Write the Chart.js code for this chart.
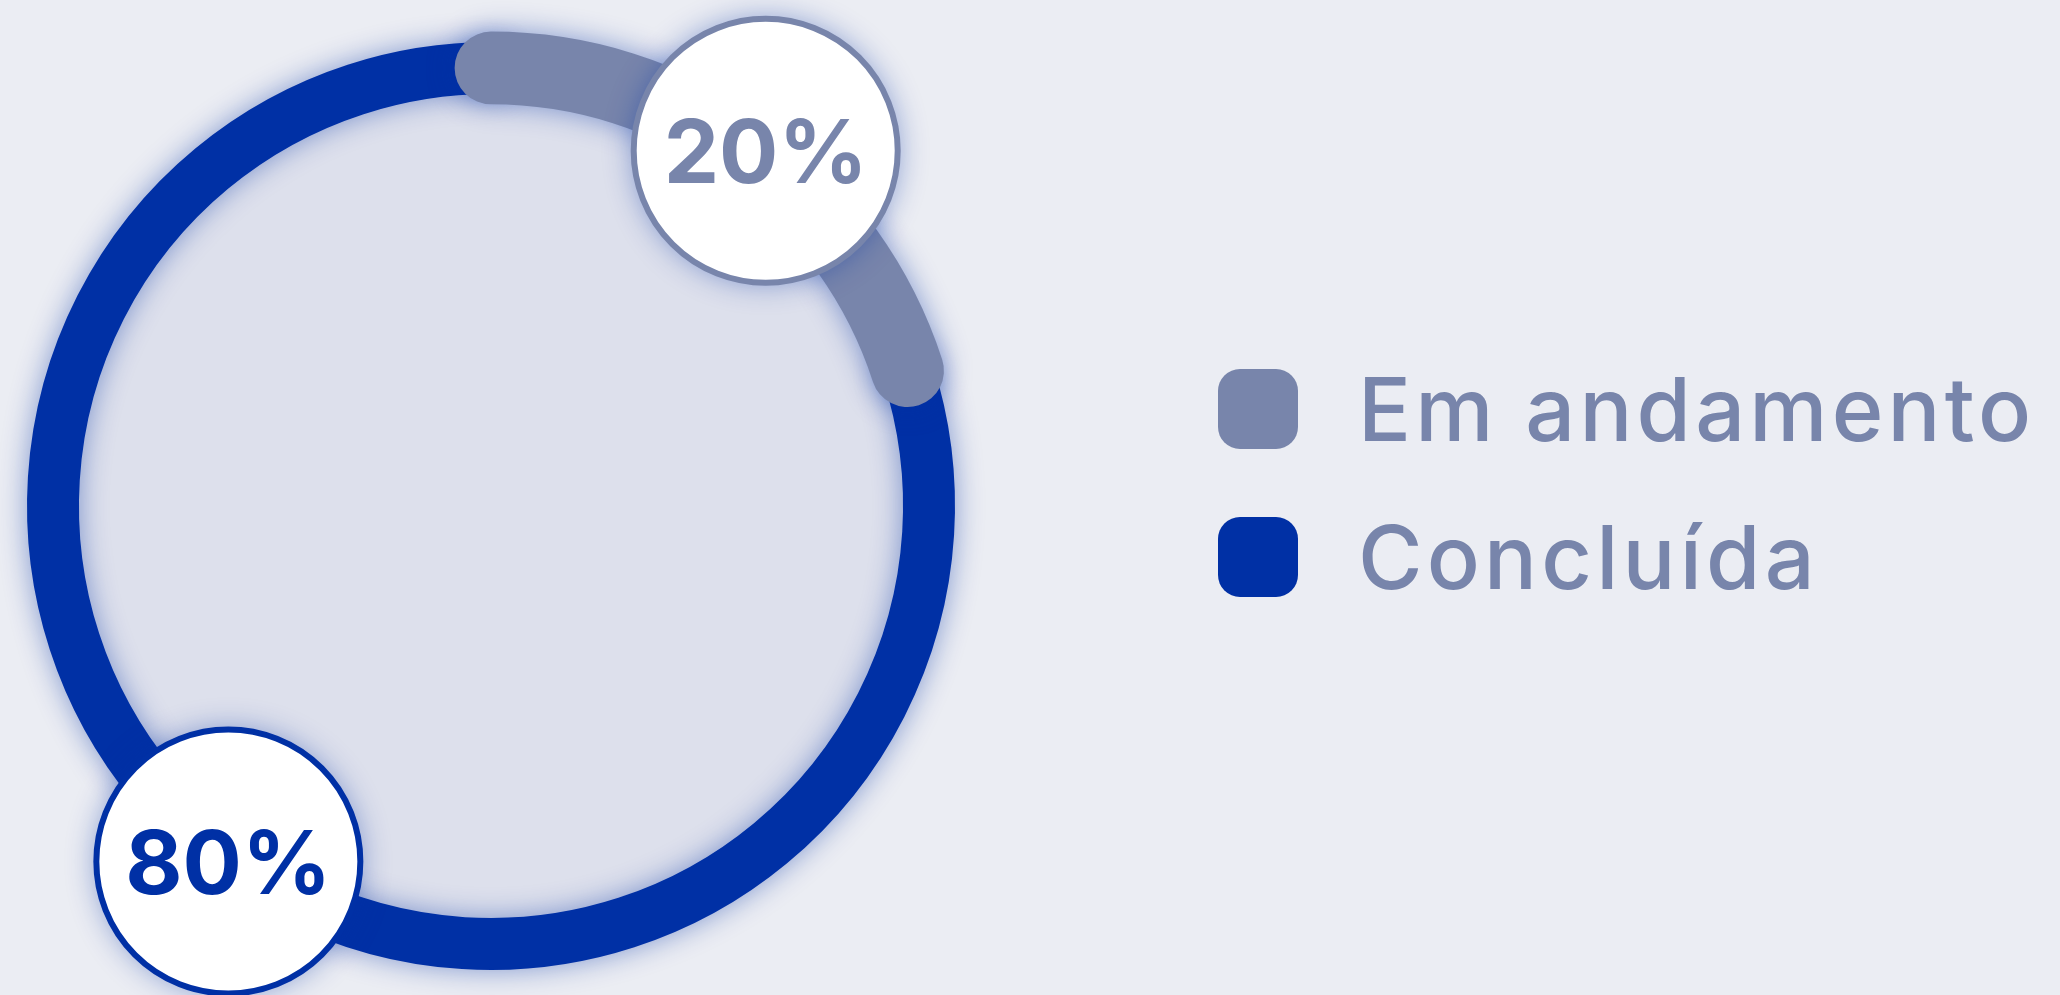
<!DOCTYPE html>
<html lang="pt-BR">
<head>
<meta charset="utf-8">
<title>Status</title>
<script src="https://cdn.jsdelivr.net/npm/chart.js@4.4.1/dist/chart.umd.min.js"></script>
<style>
  html, body {
    margin: 0;
    padding: 0;
    width: 2060px;
    height: 995px;
    overflow: hidden;
    background: #ebedf3;
    font-family: Inter, "Open Sans", sans-serif;
  }
  #chartWrap {
    position: absolute;
    left: 0;
    top: 0;
    width: 2060px;
    height: 995px;
  }
  .legend {
    position: absolute;
    left: 1218px;
    top: 369px;
  }
  .legend-item {
    display: flex;
    align-items: center;
    height: 80px;
    margin-bottom: 68px;
  }
  .legend-box {
    width: 80px;
    height: 80px;
    border-radius: 22px;
    flex: none;
  }
  .legend-label {
    margin-left: 60px;
    font-size: 88px;
    line-height: 1;
    font-weight: 500;
    letter-spacing: 4.2px;
    color: #7885ab;
    white-space: nowrap;
  }
</style>
</head>
<body>
<div id="chartWrap"><canvas id="statusChart"></canvas></div>
<div class="legend" id="legend"></div>

<script>
// data
const labels = ["Em andamento", "Concluída"];
const values = [20, 80];
const colors = ["#7885ab", "#0030a5"];

const COLOR_INNER = "#dde0ec";
const GLOW = "rgba(0, 48, 165, 0.45)";
// bubbles are nudged a little off the arc middle, as in the design
const BUBBLE_SHIFT = [0.03, 0.008];
const BUBBLE_OUT = [11, 4];

// Round-capped ring + percentage bubbles, drawn from the arc elements
const ringPlugin = {
  id: "ringPlugin",
  beforeDatasetDraw() {
    return false; // skip default arc drawing, done below
  },
  afterDatasetsDraw(chart) {
    const meta = chart.getDatasetMeta(0);
    const arcs = meta.data.map((el) =>
      el.getProps(["x", "y", "startAngle", "endAngle", "innerRadius", "outerRadius"], true)
    );
    if (!arcs.length) return;
    const ctx = chart.ctx;
    const { x, y, innerRadius, outerRadius } = arcs[0];
    const mid = (innerRadius + outerRadius) / 2;
    const thick = outerRadius - innerRadius;

    ctx.save();
    // inner disc
    ctx.beginPath();
    ctx.arc(x, y, innerRadius, 0, Math.PI * 2);
    ctx.fillStyle = COLOR_INNER;
    ctx.fill();

    ctx.shadowColor = GLOW;
    ctx.shadowBlur = 28;
    ctx.lineCap = "round";

    // draw last segment first so the first one sits on top
    for (let i = arcs.length - 1; i >= 0; i--) {
      const a = arcs[i];
      ctx.beginPath();
      ctx.arc(a.x, a.y, mid, a.startAngle, a.endAngle);
      ctx.strokeStyle = colors[i];
      ctx.lineWidth = i === 0 ? thick * 1.4 : thick;
      ctx.stroke();
    }

    // percentage bubbles
    for (let i = 0; i < arcs.length; i++) {
      const a = arcs[i];
      const ang = (a.startAngle + a.endAngle) / 2 + BUBBLE_SHIFT[i];
      const r = mid + BUBBLE_OUT[i];
      const cx = a.x + Math.cos(ang) * r;
      const cy = a.y + Math.sin(ang) * r;

      ctx.shadowColor = GLOW;
      ctx.shadowBlur = 30;
      ctx.beginPath();
      ctx.arc(cx, cy, 132, 0, Math.PI * 2);
      ctx.fillStyle = "#ffffff";
      ctx.fill();
      ctx.shadowBlur = 0;
      ctx.lineWidth = 6;
      ctx.strokeStyle = colors[i];
      ctx.stroke();

      ctx.font = "700 88px Inter, 'Open Sans', sans-serif";
      ctx.fillStyle = colors[i];
      ctx.textAlign = "center";
      ctx.textBaseline = "alphabetic";
      ctx.fillText(values[i] + "%", cx, cy + 32);
    }
    ctx.restore();
  },
};

new Chart(document.getElementById("statusChart"), {
  type: "doughnut",
  data: {
    labels,
    datasets: [
      {
        data: values,
        backgroundColor: colors,
        borderWidth: 0,
      },
    ],
  },
  options: {
    responsive: true,
    maintainAspectRatio: false,
    animation: false,
    radius: 464,
    cutout: "88.8%",
    layout: {
      padding: { top: 17, right: 1078, bottom: 0, left: 0 },
    },
    plugins: {
      legend: { display: false },
      tooltip: { enabled: false },
    },
  },
  plugins: [ringPlugin],
});

// legend
const legendEl = document.getElementById("legend");
labels.forEach((label, i) => {
  const item = document.createElement("div");
  item.className = "legend-item";
  item.innerHTML =
    `<span class="legend-box" style="background:${colors[i]}"></span>` +
    `<span class="legend-label">${label}</span>`;
  legendEl.appendChild(item);
});
</script>
</body>
</html>
